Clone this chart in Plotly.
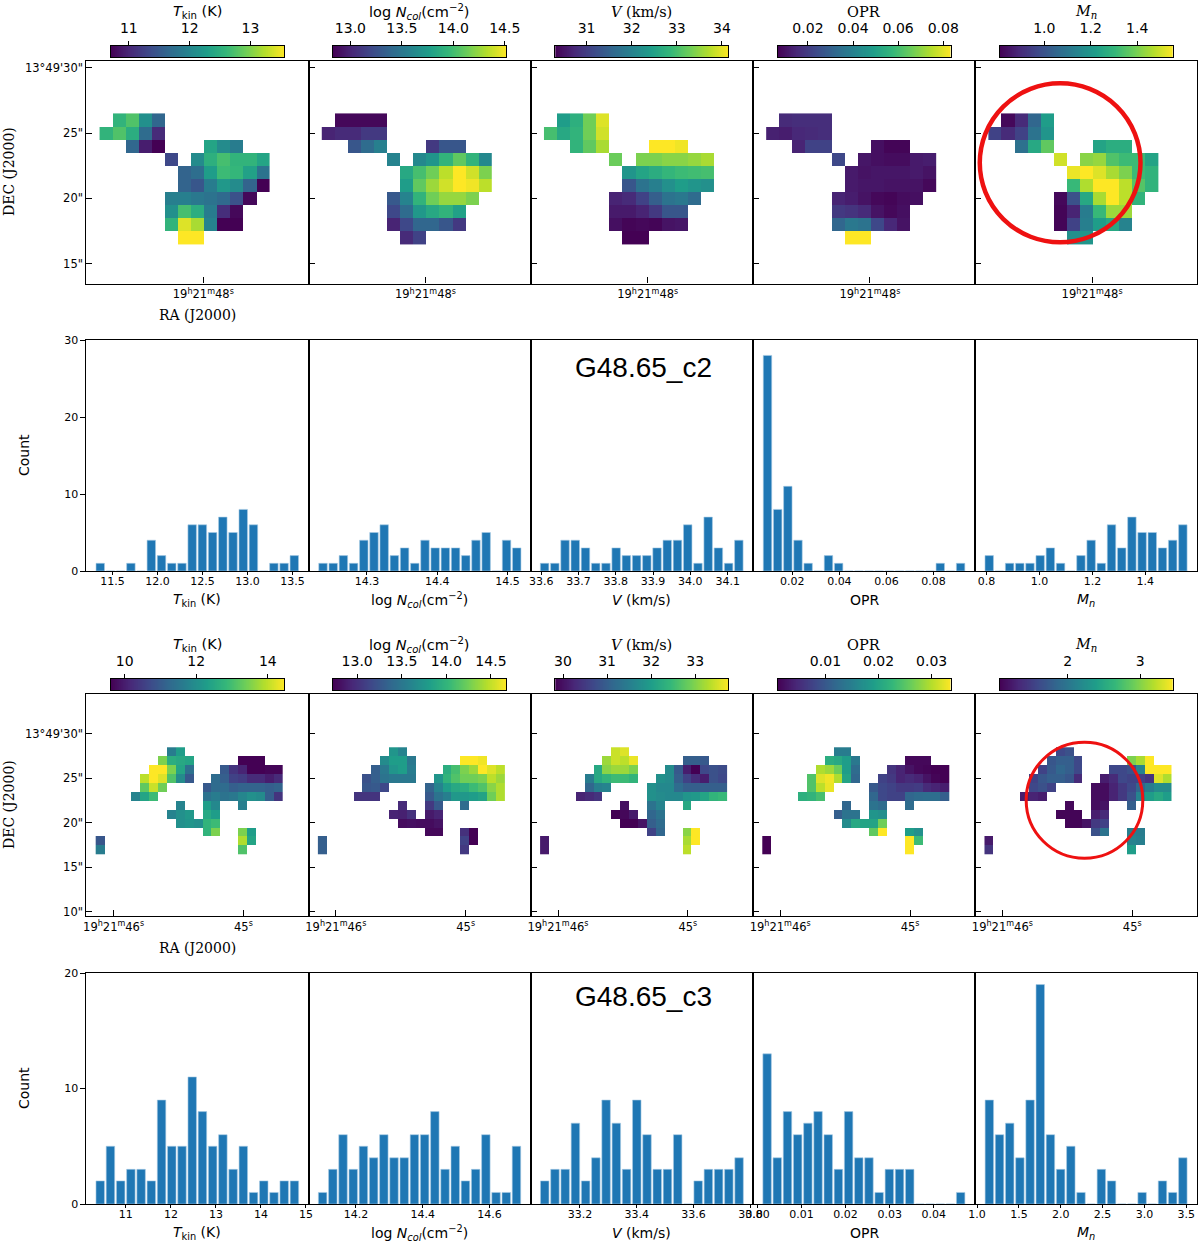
import numpy as np
import plotly.graph_objects as go

N = None

# maps are stored as levels (0 = bottom of bar, 1 = top)
# and turned into physical values with the bar limits further down
dec_c2 = [26, 25, 24, 23, 22, 21, 20, 19, 18, 17]
col_c2 = list(range(13))
dec_c3 = [28, 27, 26, 25, 24, 23, 22, 21, 20, 19, 18, 17]
col_c3 = list(range(21))

tkin_c2 = [
    [N, .65, .72, .5, .33, N, N, N, N, N, N, N, N],
    [.65, .72, .62, .35, .12, N, N, N, N, N, N, N, N],
    [N, N, .33, .08, 0, N, N, N, .58, .48, .42, N, N],
    [N, N, N, N, N, .22, N, .48, .63, .7, .65, .65, .58],
    [N, N, N, N, N, N, .32, .36, .55, .68, .66, .57, .38],
    [N, N, N, N, N, N, .32, .27, .42, .53, .48, .32, 0],
    [N, N, N, N, N, .43, .43, .4, .38, .34, .25, .02, N],
    [N, N, N, N, N, .5, .7, .62, .42, .13, .02, N, N],
    [N, N, N, N, N, .65, .95, .87, .45, 0, 0, N, N],
    [N, N, N, N, N, N, 1, 1, N, N, N, N, N],
]
ncol_c2 = [
    [N, .02, .02, .02, .02, N, N, N, N, N, N, N, N],
    [.1, .12, .12, .17, .17, N, N, N, N, N, N, N, N],
    [N, N, .27, .35, .43, N, N, N, .17, .27, .27, N, N],
    [N, N, N, N, N, .45, N, .47, .52, .65, .75, .65, .47],
    [N, N, N, N, N, N, .6, .7, .78, .9, 1, .93, .8],
    [N, N, N, N, N, N, .55, .75, .85, .93, 1, .98, .9],
    [N, N, N, N, N, .28, .45, .65, .78, .84, .84, .8, N],
    [N, N, N, N, N, .22, .35, .53, .6, .65, .57, N, N],
    [N, N, N, N, N, .1, .22, .33, .33, .27, .17, N, N],
    [N, N, N, N, N, N, .12, .2, N, N, N, N, N],
]
vel_c2 = [
    [N, .55, .63, .78, .95, N, N, N, N, N, N, N, N],
    [.7, .6, .65, .78, .93, N, N, N, N, N, N, N, N],
    [N, N, .65, .75, .87, N, N, N, 1, 1, .98, N, N],
    [N, N, N, N, N, .77, N, .8, .8, .82, .82, .84, .87],
    [N, N, N, N, N, N, .52, .58, .62, .66, .68, .69, .7],
    [N, N, N, N, N, N, .27, .38, .43, .5, .55, .52, .5],
    [N, N, N, N, N, .1, .12, .2, .3, .38, .4, .35, N],
    [N, N, N, N, N, .07, .07, .1, .17, .27, .27, N, N],
    [N, N, N, N, N, .04, .01, .02, .01, .05, .06, N, N],
    [N, N, N, N, N, N, 0, 0, N, N, N, N, N],
]
opr_c2 = [
    [N, .12, .13, .13, .13, N, N, N, N, N, N, N, N],
    [.09, .08, .11, .12, .13, N, N, N, N, N, N, N, N],
    [N, N, .1, .2, .2, N, N, N, .04, .01, .01, N, N],
    [N, N, N, N, N, .22, N, .06, .04, .03, .03, .07, .08],
    [N, N, N, N, N, N, .07, .05, .06, .06, .06, .07, .05],
    [N, N, N, N, N, N, .07, .06, .06, .05, .05, .05, .02],
    [N, N, N, N, N, .1, .08, .05, .02, .01, .03, .04, N],
    [N, N, N, N, N, .17, .15, .12, .05, .02, .04, N, N],
    [N, N, N, N, N, .33, .4, .38, .22, .11, .05, N, N],
    [N, N, N, N, N, N, 1, 1, N, N, N, N, N],
]
mach_c2 = [
    [N, .02, .12, .33, .55, N, N, N, N, N, N, N, N],
    [.2, .12, .2, .38, .52, N, N, N, N, N, N, N, N],
    [N, N, .37, .6, .75, N, N, N, .58, .62, .62, N, N],
    [N, N, N, N, N, .93, N, .82, .84, .72, .68, .68, .58],
    [N, N, N, N, N, N, .97, 1, .95, .87, .8, .68, .65],
    [N, N, N, N, N, N, .67, .88, 1, 1, .9, .73, .65],
    [N, N, N, N, N, .02, .25, .6, .87, 1, .9, .65, N],
    [N, N, N, N, N, .01, .1, .42, .67, .85, .85, N, N],
    [N, N, N, N, N, .01, .2, .43, .55, .6, .45, N, N],
    [N, N, N, N, N, N, .5, .52, N, N, N, N, N],
]

tkin_c3 = [
    [N, N, N, N, N, N, N, N, .42, .55, N, N, N, N, N, N, N, N, N, N, N],
    [N, N, N, N, N, N, N, .8, .62, .6, .58, N, N, N, N, N, 0, 0, 0, N, N],
    [N, N, N, N, N, N, 1, 1, .8, .58, .37, N, N, N, .28, .15, .1, 0, 0, .01, .01],
    [N, N, N, N, N, .9, 1, .95, .72, .48, .28, N, N, .35, .3, .2, .18, .12, .12, .08, .12],
    [N, N, N, N, N, .75, .92, .78, N, N, N, N, .28, .35, .35, .3, .32, .32, .32, .3, .32],
    [N, N, N, N, .45, .58, .68, N, N, N, N, N, .38, .42, .38, .4, .46, .5, .48, .3, .15],
    [N, N, N, N, N, N, N, N, N, .45, N, N, .55, .47, N, N, .43, N, N, N, N],
    [N, N, N, N, N, N, N, N, .45, .5, .53, N, .6, .55, N, N, N, N, N, N, N],
    [N, N, N, N, N, N, N, N, N, .5, .52, .5, .65, .68, N, N, N, N, N, N, N],
    [N, N, N, N, N, N, N, N, N, N, N, N, .65, .8, N, N, .8, .55, N, N, N],
    [.27, N, N, N, N, N, N, N, N, N, N, N, N, N, N, N, .88, .58, N, N, N],
    [.42, N, N, N, N, N, N, N, N, N, N, N, N, N, N, N, .72, N, N, N, N],
]
ncol_c3 = [
    [N, N, N, N, N, N, N, N, .52, .45, N, N, N, N, N, N, N, N, N, N, N],
    [N, N, N, N, N, N, N, .48, .55, .55, .4, N, N, N, N, N, 1, 1, .98, N, N],
    [N, N, N, N, N, N, .3, .4, .52, .55, .42, N, N, N, .62, .7, .8, .85, 1, .95, .9],
    [N, N, N, N, N, .25, .3, .38, .4, .4, .4, N, N, .52, .65, .72, .78, .78, .8, .9, .85],
    [N, N, N, N, N, .27, .28, .22, N, N, N, N, .32, .45, .55, .6, .62, .68, .72, .82, .88],
    [N, N, N, N, .15, .15, .15, N, N, N, N, N, .28, .38, .43, .53, .53, .55, .58, .78, .88],
    [N, N, N, N, N, N, N, N, N, .12, N, N, .17, .28, N, N, .35, N, N, N, N],
    [N, N, N, N, N, N, N, N, .1, .09, .14, N, .07, .1, N, N, N, N, N, N, N],
    [N, N, N, N, N, N, N, N, N, .03, .04, .03, .03, .05, N, N, N, N, N, N, N],
    [N, N, N, N, N, N, N, N, N, N, N, N, .02, .02, N, N, .14, 0, N, N, N],
    [.3, N, N, N, N, N, N, N, N, N, N, N, N, N, N, N, .2, 0, N, N, N],
    [.3, N, N, N, N, N, N, N, N, N, N, N, N, N, N, N, .17, N, N, N, N],
]
vel_c3 = [
    [N, N, N, N, N, N, N, N, .92, .95, N, N, N, N, N, N, N, N, N, N, N],
    [N, N, N, N, N, N, N, .85, .92, .9, .97, N, N, N, N, N, .3, .3, .28, N, N],
    [N, N, N, N, N, N, .6, .82, .85, .85, .8, N, N, N, .48, .28, .08, 0, .22, .25, .23],
    [N, N, N, N, N, .42, .6, .65, .68, .68, .65, N, N, .5, .48, .3, .2, .13, .08, .25, .22],
    [N, N, N, N, N, .33, .43, .45, N, N, N, N, .5, .47, .47, .35, .3, .3, .3, .3, .3],
    [N, N, N, N, .1, .12, .15, N, N, N, N, N, .5, .48, .47, .47, .52, .53, .58, .65, .67],
    [N, N, N, N, N, N, N, N, N, .04, N, N, .38, .45, N, N, .6, N, N, N, N],
    [N, N, N, N, N, N, N, N, 0, .02, .07, N, .33, .38, N, N, N, N, N, N, N],
    [N, N, N, N, N, N, N, N, N, 0, 0, .05, .3, .35, N, N, N, N, N, N, N],
    [N, N, N, N, N, N, N, N, N, N, N, N, .2, .33, N, N, .82, 1, N, N, N],
    [.07, N, N, N, N, N, N, N, N, N, N, N, N, N, N, N, .87, 1, N, N, N],
    [.07, N, N, N, N, N, N, N, N, N, N, N, N, N, N, N, .9, N, N, N, N],
]
opr_c3 = [
    [N, N, N, N, N, N, N, N, .42, .42, N, N, N, N, N, N, N, N, N, N, N],
    [N, N, N, N, N, N, N, .62, .6, .55, .4, N, N, N, N, N, .02, .02, .02, N, N],
    [N, N, N, N, N, N, .88, .85, .77, .55, .35, N, N, N, .15, .1, .05, .02, .01, 0, 0],
    [N, N, N, N, N, .72, .95, .98, .88, .58, .33, N, N, .2, .17, .1, .12, .1, .05, .01, 0],
    [N, N, N, N, N, .72, .9, .97, N, N, N, N, .28, .22, .2, .17, .17, .18, .12, .1, .08],
    [N, N, N, N, .63, .65, .7, N, N, N, N, N, .33, .22, .2, .2, .33, .35, .36, .36, .3],
    [N, N, N, N, N, N, N, N, N, .33, N, N, .38, .35, N, N, .35, N, N, N, N],
    [N, N, N, N, N, N, N, N, .3, .38, .38, N, .52, .5, N, N, N, N, N, N, N],
    [N, N, N, N, N, N, N, N, N, .48, .6, .58, .58, .78, N, N, N, N, N, N, N],
    [N, N, N, N, N, N, N, N, N, N, N, N, .75, 1, N, N, .55, .5, N, N, N],
    [0, N, N, N, N, N, N, N, N, N, N, N, N, N, N, N, 1, .68, N, N, N],
    [0, N, N, N, N, N, N, N, N, N, N, N, N, N, N, N, 1, N, N, N, N],
]
mach_c3 = [
    [N, N, N, N, N, N, N, N, .22, .25, N, N, N, N, N, N, N, N, N, N, N],
    [N, N, N, N, N, N, N, .27, .3, .3, .22, N, N, N, N, N, .8, .87, 1, N, N],
    [N, N, N, N, N, N, .2, .28, .33, .3, .22, N, N, N, .22, .22, .25, .45, 1, 1, 1],
    [N, N, N, N, N, .2, .27, .3, .3, .27, .12, N, N, .08, .12, .22, .2, .2, .15, .95, .88],
    [N, N, N, N, N, .22, .25, .2, N, N, N, N, .03, .03, .1, .17, .22, .33, .42, .48, .48],
    [N, N, N, N, .08, .1, .08, N, N, N, N, N, .03, .03, .1, .17, .25, .45, .55, .6, .55],
    [N, N, N, N, N, N, N, N, N, .02, N, N, .03, .05, N, N, .3, N, N, N, N],
    [N, N, N, N, N, N, N, N, .01, .01, .01, N, .08, .12, N, N, N, N, N, N, N],
    [N, N, N, N, N, N, N, N, N, .01, .01, .05, .17, .2, N, N, N, N, N, N, N],
    [N, N, N, N, N, N, N, N, N, N, N, N, .25, .38, N, N, .43, .42, N, N, N],
    [.07, N, N, N, N, N, N, N, N, N, N, N, N, N, N, N, .45, .43, N, N, N],
    [.15, N, N, N, N, N, N, N, N, N, N, N, N, N, N, N, .55, N, N, N, N],
]

# colour bar limits and ticks
bar_lims_c2 = [(10.705, 13.55), (12.832, 14.513), (30.307, 34.14), (.0065, .0832), (.808, 1.553)]
bar_lims_c3 = [(9.614, 14.45), (12.73, 14.67), (29.825, 33.75), (.00097, .03355), (1.06, 3.45)]
bar_ticks_c2 = [[11, 12, 13], [13, 13.5, 14, 14.5], [31, 32, 33, 34], [.02, .04, .06, .08], [1, 1.2, 1.4]]
bar_ticks_c3 = [[10, 12, 14], [13, 13.5, 14, 14.5], [30, 31, 32, 33], [.01, .02, .03], [2, 3]]
bar_fmt_c2 = [".0f", ".1f", ".0f", ".2f", ".1f"]
bar_fmt_c3 = [".0f", ".1f", ".0f", ".2f", ".0f"]

# histograms, 20 bins each
tkin_counts_c2 = [1, 0, 0, 1, 0, 4, 2, 1, 1, 6, 6, 5, 7, 5, 8, 6, 0, 1, 1, 2]
ncol_counts_c2 = [1, 1, 2, 1, 4, 5, 6, 2, 3, 1, 4, 3, 3, 3, 2, 4, 5, 0, 4, 3]
vel_counts_c2 = [1, 1, 4, 4, 3, 1, 1, 3, 2, 2, 2, 3, 4, 4, 6, 1, 7, 3, 1, 4]
opr_counts_c2 = [28, 8, 11, 4, 1, 0, 2, 1, 0, 0, 0, 0, 0, 0, 0, 0, 0, 1, 0, 1]
mach_counts_c2 = [2, 0, 1, 1, 1, 2, 3, 1, 0, 2, 4, 1, 6, 3, 7, 5, 5, 3, 4, 6]
tkin_counts_c3 = [2, 5, 2, 3, 3, 2, 9, 5, 5, 11, 8, 5, 6, 3, 5, 1, 2, 1, 2, 2]
ncol_counts_c3 = [1, 3, 6, 3, 5, 4, 6, 4, 4, 6, 6, 8, 3, 5, 2, 3, 6, 1, 1, 5]
vel_counts_c3 = [2, 3, 3, 7, 2, 4, 9, 7, 3, 9, 6, 3, 3, 6, 0, 2, 3, 3, 3, 4]
opr_counts_c3 = [13, 4, 8, 6, 7, 8, 6, 3, 8, 4, 4, 1, 3, 3, 3, 0, 0, 0, 0, 1]
mach_counts_c3 = [9, 6, 7, 4, 9, 19, 6, 3, 5, 1, 0, 3, 2, 0, 0, 1, 0, 2, 1, 4]

# first and last bin centre, axis limits, ticks
hist_bins_c2 = [(11.364, 13.521), (14.2375, 14.513), (33.609, 34.13), (.00946, .0915), (.81, 1.542)]
hist_xlim_c2 = [(11.21, 13.68), (14.217, 14.533), (33.572, 34.168), (.0033, .0977), (.757, 1.597)]
hist_ticks_c2 = [[11.5, 12, 12.5, 13, 13.5], [14.3, 14.4, 14.5], [33.6, 33.7, 33.8, 33.9, 34, 34.1],
                 [.02, .04, .06, .08], [.8, 1, 1.2, 1.4]]
hist_bins_c3 = [(10.43, 14.745), (14.1, 14.681), (33.076, 33.76), (.0022, .0461), (1.146, 3.459)]
hist_xlim_c3 = [(10.123, 15.06), (14.058, 14.724), (33.027, 33.809), (-.001, .0494), (.977, 3.633)]
hist_ticks_c3 = [[11, 12, 13, 14, 15], [14.2, 14.4, 14.6], [33.2, 33.4, 33.6, 33.8],
                 [0, .01, .02, .03, .04], [1, 1.5, 2, 2.5, 3, 3.5]]
hist_fmt_c2 = [".1f", ".1f", ".1f", ".2f", ".1f"]
hist_fmt_c3 = [".0f", ".1f", ".1f", ".2f", ".1f"]

labels = ["<i>T</i><sub>kin</sub> (K)", "log <i>N<sub>col</sub></i>(cm<sup>\u22122</sup>)",
          "<i>V</i> (km/s)", "OPR", "<i>M<sub>n</sub></i>"]
bar_titles = labels

panel_left = [86.4, 308.6, 530.8, 753.0, 975.2]
panel_w = 222.2
W, H = 1200, 1245
SANS = "DejaVu Sans"
SERIF = "DejaVu Serif"


def px(v):
    return v / W


def py(v):
    return 1 - v / H


def frame(tickfont=11.5):
    return dict(showline=True, linecolor="black", linewidth=1.1, mirror=True, showgrid=False, zeroline=False,
                tickfont=dict(family=SANS, size=tickfont, color="black"), tickcolor="black")


fig = go.Figure()
axes = {}
notes = []
shapes = []
n = 0


def add_map_row(grids, lims, ticks, fmts, decs, cols, top, bottom, bar_top, xr, yr, ra_ticks, ra_text, dec_ticks, dec_text):
    global n
    for i, g in enumerate(grids):
        n += 1
        lo, hi = lims[i]
        z = [[None if v is None else lo + v * (hi - lo) for v in row] for row in g]
        fig.add_trace(go.Heatmap(z=z, x=cols, y=decs, zmin=lo, zmax=hi, colorscale="Viridis", hoverongaps=False,
                                 showscale=False, xaxis=f"x{n}", yaxis=f"y{n}"))
        xa = frame()
        xa.update(domain=[px(panel_left[i]), px(panel_left[i] + panel_w)], range=xr, anchor=f"y{n}",
                  ticks="inside", ticklen=6, tickvals=ra_ticks, ticktext=ra_text)
        ya = frame()
        ya.update(domain=[py(bottom), py(top)], range=yr, anchor=f"x{n}", ticks="inside", ticklen=6,
                  tickvals=dec_ticks, ticktext=dec_text, showticklabels=i == 0)
        axes[f"xaxis{n}"] = xa
        axes[f"yaxis{n}"] = ya

        # colour bar: plotly's own horizontal colorbar can't put labels above, so a thin strip axis
        n += 1
        strip = np.linspace(lo, hi, 256)
        fig.add_trace(go.Heatmap(z=[strip], x=strip, y=[0], zmin=lo, zmax=hi, colorscale="Viridis", showscale=False,
                                 xaxis=f"x{n}", yaxis=f"y{n}"))
        xa = frame(14)
        xa.update(domain=[px(panel_left[i] + 24.5), px(panel_left[i] + 197.5)], range=[lo, hi], anchor=f"y{n}", side="top",
                  ticks="outside", ticklen=4, ticklabelstandoff=2, tickvals=ticks[i], tickformat=fmts[i])
        ya = dict(domain=[py(bar_top + 11), py(bar_top)], range=[-.5, .5], anchor=f"x{n}", showline=True, linecolor="black",
                  linewidth=1.3, mirror=True, showgrid=False, zeroline=False, ticks="", showticklabels=False)
        axes[f"xaxis{n}"] = xa
        axes[f"yaxis{n}"] = ya
        notes.append(dict(text=bar_titles[i], x=px(panel_left[i] + 111), y=py(bar_top - 34), xref="paper", yref="paper",
                          showarrow=False, xanchor="center", yanchor="middle",
                          font=dict(family=SANS if i < 2 else SERIF, size=14.5, color="black")))
    return n


def add_hist_row(counts, bins, xlims, ticks, fmts, ymax, yticks, top, bottom, label_y):
    global n
    for i, c in enumerate(counts):
        n += 1
        centres = np.linspace(bins[i][0], bins[i][1], len(c))
        step = centres[1] - centres[0]
        fig.add_trace(go.Bar(x=centres, y=c, width=0.83 * step, marker=dict(color="#1f77b4", line=dict(color="#a8cbe4", width=0.6)),
                             xaxis=f"x{n}", yaxis=f"y{n}", showlegend=False))
        xa = frame(11)
        xa.update(domain=[px(panel_left[i]), px(panel_left[i] + panel_w)], range=list(xlims[i]), anchor=f"y{n}",
                  ticks="outside", ticklen=3, ticklabelstandoff=-3, tickvals=ticks[i], tickformat=fmts[i])
        ya = frame(11)
        ya.update(domain=[py(bottom), py(top)], range=[0, ymax], anchor=f"x{n}", ticks="outside" if i == 0 else "",
                  ticklen=5, tickvals=yticks, showticklabels=i == 0)
        axes[f"xaxis{n}"] = xa
        axes[f"yaxis{n}"] = ya
        notes.append(dict(text=labels[i], x=px(panel_left[i] + 111), y=py(label_y), xref="paper", yref="paper",
                          showarrow=False, xanchor="center", yanchor="middle",
                          font=dict(family=SANS, size=14, color="black")))


ra_c2 = ["19<sup>h</sup>21<sup>m</sup>48<sup>s</sup>"]
ra_c3 = ["19<sup>h</sup>21<sup>m</sup>46<sup>s</sup>", "45<sup>s</sup>"]
dec_text_c2 = ["15\"", "20\"", "25\"", "13\u00b049'30\""]
dec_text_c3 = ["10\"", "15\"", "20\"", "25\"", "13\u00b049'30\""]

last_c2 = add_map_row([tkin_c2, ncol_c2, vel_c2, opr_c2, mach_c2], bar_lims_c2, bar_ticks_c2, bar_fmt_c2, dec_c2, col_c2,
                      61, 283.5, 46, [-1.51, 15.52], [13.49, 30.51], [7.45], ra_c2, [15, 20, 25, 30], dec_text_c2)
add_hist_row([tkin_counts_c2, ncol_counts_c2, vel_counts_c2, opr_counts_c2, mach_counts_c2], hist_bins_c2, hist_xlim_c2,
             hist_ticks_c2, hist_fmt_c2, 30, [0, 10, 20, 30], 340, 571, 600)
last_c3 = add_map_row([tkin_c3, ncol_c3, vel_c3, opr_c3, mach_c3], bar_lims_c3, bar_ticks_c3, bar_fmt_c3, dec_c3, col_c3,
                      694, 916, 679, [-1.543, 23.4], [9.5, 34.5], [1.51, 16.09], ra_c3, [10, 15, 20, 25, 30], dec_text_c3)
add_hist_row([tkin_counts_c3, ncol_counts_c3, vel_counts_c3, opr_counts_c3, mach_counts_c3], hist_bins_c3, hist_xlim_c3,
             hist_ticks_c3, hist_fmt_c3, 20, [0, 10, 20], 973, 1204, 1233)

# side labels and cloud names
for txt, x, y, rot, fam, size in [
    ("DEC (J2000)", 9, 172, -90, SERIF, 14), ("RA (J2000)", 197, 315, 0, SERIF, 14),
    ("DEC (J2000)", 9, 805, -90, SERIF, 14), ("RA (J2000)", 197, 948, 0, SERIF, 14),
    ("Count", 24, 455, -90, SANS, 14), ("Count", 24, 1088, -90, SANS, 14),
    ("G48.65_c2", 643, 367, 0, "Liberation Sans", 28), ("G48.65_c3", 643, 996, 0, "Liberation Sans", 28),
]:
    notes.append(dict(text=txt, x=px(x), y=py(y), xref="paper", yref="paper", showarrow=False, textangle=rot,
                      xanchor="center", yanchor="middle", font=dict(family=fam, size=size, color="black")))

# red ellipses on the Mach number maps (map axis is one before the last strip axis)
shapes.append(dict(type="circle", xref=f"x{last_c2 - 1}", yref=f"y{last_c2 - 1}", x0=-1.16, x1=11.16, y0=16.64, y1=28.8,
                   line=dict(color="#ee1111", width=4.5)))
shapes.append(dict(type="circle", xref=f"x{last_c3 - 1}", yref=f"y{last_c3 - 1}", x0=4.18, x1=17.27, y0=16.0, y1=29.07,
                   line=dict(color="#ee1111", width=3)))

fig.update_layout(width=W, height=H, margin=dict(l=0, r=0, t=0, b=0, autoexpand=False), paper_bgcolor="white", plot_bgcolor="white",
                  showlegend=False, annotations=notes, shapes=shapes, **axes)

fig.write_html("out.html", post_script="document.body.style.margin='0';", config={"displayModeBar": False})
